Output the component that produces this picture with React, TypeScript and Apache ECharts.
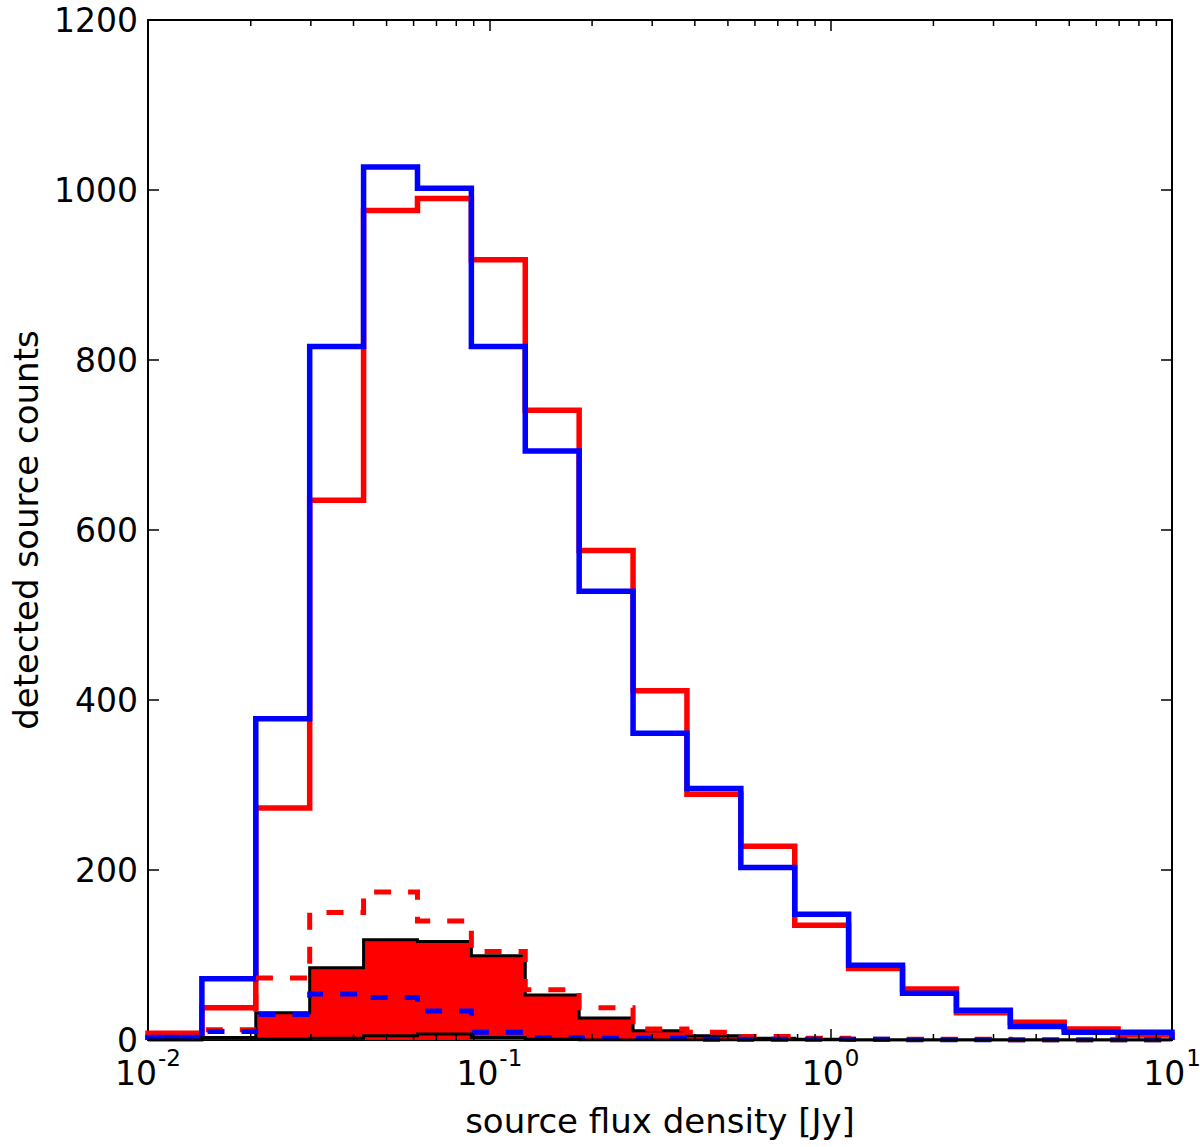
import React, { useEffect, useRef } from "react";
import * as echarts from "echarts";

// 19 logarithmic bins from 10^-2 to 10^1
const binEdges = [
  0.01, 0.014384, 0.020691, 0.029764, 0.042813, 0.061585, 0.088587, 0.127427,
  0.183298, 0.263665, 0.379269, 0.545559, 0.78476, 1.128838, 1.623777,
  2.335721, 3.359818, 4.83293, 6.951928, 10,
];

const redAll = [8, 38, 273, 635, 976, 990, 918, 741, 576, 411, 289, 228, 135, 84, 60, 32, 21, 13, 6];
const blueAll = [3, 72, 378, 816, 1027, 1002, 816, 693, 528, 361, 296, 203, 148, 88, 55, 35, 16, 9, 9];
const redDashed = [2, 12, 73, 150, 174, 140, 104, 59, 38, 13, 9, 4, 2, 1, 1, 1, 0, 0, 0];
const blueDashed = [2, 10, 30, 54, 50, 34, 9, 3, 2, 2, 1, 1, 1, 1, 0, 0, 0, 0, 0];
const filledCounts = [0, 3, 32, 85, 118, 116, 99, 53, 26, 11, 5, 2, 1, 0, 0, 0, 0, 0, 0];
const blackSmall = [0, 2, 1, 2, 5, 7, 3, 1, 0, 0, 0, 0, 0, 0, 0, 0, 0, 0, 0];

const yTicks = [0, 200, 400, 600, 800, 1000, 1200];
const xDecades = [0.01, 0.1, 1, 10];
const minorMultipliers = [2, 3, 4, 5, 6, 7, 8, 9];

const FONT = "DejaVu Sans";

function stepPoints(counts: number[]) {
  const pts: number[][] = [[binEdges[0], 0]];
  counts.forEach((c, i) => {
    pts.push([binEdges[i], c]);
    pts.push([binEdges[i + 1], c]);
  });
  pts.push([binEdges[binEdges.length - 1], 0]);
  return pts;
}

export default function App() {
  const ref = useRef<HTMLDivElement>(null);
  useEffect(() => {
    if (!ref.current) return;
    const chart = echarts.init(ref.current, undefined, { renderer: "svg" });
    const minorTicks: number[] = [];
    xDecades.slice(0, -1).forEach((d) => minorMultipliers.forEach((m) => minorTicks.push(d * m)));

    const labelFmt = (v: number) => {
      const e = Math.round(Math.log10(v));
      return `{b|10}{s|${e}}`;
    };
    const rich = {
      b: { fontSize: 33, fontFamily: FONT, color: "#000", lineHeight: 44, verticalAlign: "bottom" },
      s: { fontSize: 23, fontFamily: FONT, color: "#000", lineHeight: 44, verticalAlign: "top", padding: [0, 0, 0, 1] },
    };
    const axisLine = { show: true, onZero: false, lineStyle: { color: "#000", width: 2 } };
    const tick = { show: true, inside: true, length: 11, lineStyle: { color: "#000", width: 1.5 } };

    const lineSeries = (name: string, counts: number[], color: string, width: number, type: any, z: number, extra: any = {}) => ({
      name,
      type: "line",
      data: stepPoints(counts),
      symbol: "none",
      showSymbol: false,
      xAxisIndex: 0,
      yAxisIndex: 0,
      lineStyle: { color, width, type, cap: "butt", join: "miter" },
      z,
      silent: true,
      ...extra,
    });

    chart.setOption({
      animation: false,
      backgroundColor: "#fff",
      grid: { left: 148, right: 28, top: 20, bottom: 107, containLabel: false, outerBoundsMode: "none" },
      xAxis: [
        {
          type: "log",
          logBase: 10,
          min: 0.01,
          max: 10,
          position: "bottom",
          axisLine,
          axisTick: tick,
          splitLine: { show: false },
          axisLabel: { formatter: labelFmt, rich, margin: 6, showMinLabel: true, showMaxLabel: true, hideOverlap: false },
          name: "source flux density [Jy]",
          nameLocation: "middle",
          nameGap: 64,
          nameTextStyle: { fontSize: 34, fontFamily: FONT, color: "#000" },
        },
        {
          type: "log",
          logBase: 10,
          min: 0.01,
          max: 10,
          position: "top",
          axisLine,
          axisTick: tick,
          splitLine: { show: false },
          axisLabel: { show: false },
        },
      ],
      yAxis: [
        {
          type: "value",
          min: yTicks[0],
          max: yTicks[yTicks.length - 1],
          interval: 200,
          position: "left",
          axisLine,
          axisTick: tick,
          splitLine: { show: false },
          axisLabel: {
            formatter: (v: number) => String(v),
            fontSize: 33,
            fontFamily: FONT,
            color: "#000",
            margin: 10,
            showMinLabel: true,
            showMaxLabel: true,
            hideOverlap: false,
          },
          name: "detected source counts",
          nameLocation: "middle",
          nameGap: 100,
          nameTextStyle: { fontSize: 34, fontFamily: FONT, color: "#000" },
        },
        {
          type: "value",
          min: yTicks[0],
          max: yTicks[yTicks.length - 1],
          interval: 200,
          position: "right",
          axisLine,
          axisTick: tick,
          splitLine: { show: false },
          axisLabel: { show: false },
        },
      ],
      series: [
        lineSeries("all red", redAll, "#ff0000", 5.5, "solid", 2),
        lineSeries("all blue", blueAll, "#0000ff", 5.5, "solid", 3),
        lineSeries("matched", filledCounts, "#000000", 3, "solid", 4, {
          areaStyle: { color: "#ff0000", opacity: 1 },
        }),
        lineSeries("red dashed", redDashed, "#ff0000", 5, [17, 17], 5),
        lineSeries("blue dashed", blueDashed, "#0000ff", 5, [17, 17], 6),
        lineSeries("black small", blackSmall, "#000000", 3, "solid", 7),
        {
          type: "custom",
          xAxisIndex: 0,
          yAxisIndex: 0,
          silent: true,
          z: 10,
          data: minorTicks.map((v) => [v, 0]),
          renderItem: (params: any, api: any) => {
            const x = api.coord([api.value(0), 0])[0];
            const cs = params.coordSys;
            const b = cs.y + cs.height;
            return {
              type: "group",
              children: [
                { type: "line", shape: { x1: x, y1: b, x2: x, y2: b - 6 }, style: { stroke: "#000", lineWidth: 1.5 } },
                { type: "line", shape: { x1: x, y1: cs.y, x2: x, y2: cs.y + 6 }, style: { stroke: "#000", lineWidth: 1.5 } },
              ],
            };
          },
        },
      ],
    });
    return () => chart.dispose();
  }, []);

  return (
    <div
      ref={ref}
      style={{ position: "fixed", left: 0, top: 0, width: 1200, height: 1147, background: "#fff" }}
    />
  );
}
